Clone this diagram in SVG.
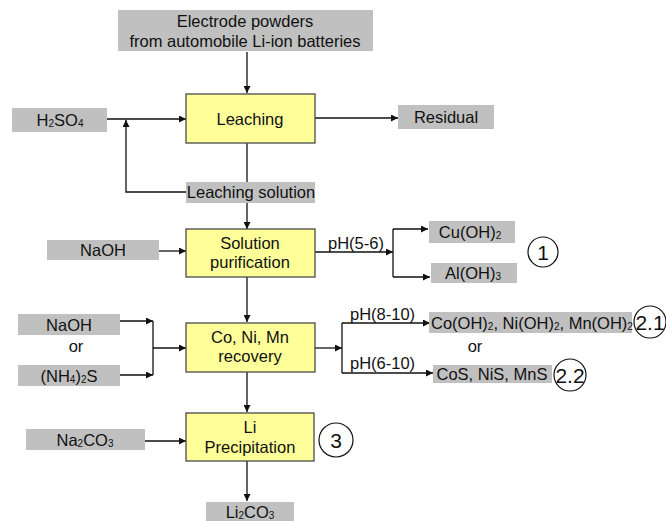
<svg xmlns="http://www.w3.org/2000/svg" width="666" height="521" viewBox="0 0 666 521">
<style>
  text { font-family: "Liberation Sans", Arial, sans-serif; font-size: 16.5px; fill: #111; }
  .c { text-anchor: middle; }
  .g { fill: #c0c0c0; stroke: none; }
  .y { fill: #ffff99; stroke: #4a4a4a; stroke-width: 1.3; }
  .ln { fill: none; stroke: #111; stroke-width: 1.3; }
  .circ { fill: #fff; stroke: #111; stroke-width: 1.2; }
  .sub { font-size: 10px; }
  .num { font-size: 21px; }
</style>
<defs>
  <marker id="ah" viewBox="0 0 10 10" refX="10" refY="5" markerWidth="7" markerHeight="7" markerUnits="userSpaceOnUse" orient="auto">
    <path d="M0,0 L10,5 L0,10 z" fill="#111"/>
  </marker>
</defs>

<g id="connectors">
  <path class="ln" d="M247,52 V93" marker-end="url(#ah)"/>
  <path class="ln" d="M107,119 H186" marker-end="url(#ah)"/>
  <path class="ln" d="M187,192 H126 V120" marker-end="url(#ah)"/>
  <path class="ln" d="M315,118 H398" marker-end="url(#ah)"/>
  <path class="ln" d="M247,143 V182"/>
  <path class="ln" d="M247,203 V229" marker-end="url(#ah)"/>
  <path class="ln" d="M159,251 H186" marker-end="url(#ah)"/>
  <path class="ln" d="M315,252 H393" marker-end="url(#ah)"/>
  <path class="ln" d="M393,229 V277"/>
  <path class="ln" d="M393,229 H428" marker-end="url(#ah)"/>
  <path class="ln" d="M393,277 H430" marker-end="url(#ah)"/>
  <path class="ln" d="M247,277 V322" marker-end="url(#ah)"/>
  <path class="ln" d="M120,321 H153" marker-end="url(#ah)"/>
  <path class="ln" d="M120,375 H153" marker-end="url(#ah)"/>
  <path class="ln" d="M153,321 V375"/>
  <path class="ln" d="M153,348 H186" marker-end="url(#ah)"/>
  <path class="ln" d="M314,348 H342" marker-end="url(#ah)"/>
  <path class="ln" d="M342,323 V373"/>
  <path class="ln" d="M342,323 H430" marker-end="url(#ah)"/>
  <path class="ln" d="M342,373 H433" marker-end="url(#ah)"/>
  <path class="ln" d="M247,372 V412" marker-end="url(#ah)"/>
  <path class="ln" d="M145,441 H186" marker-end="url(#ah)"/>
  <path class="ln" d="M247,461 V501" marker-end="url(#ah)"/>
  <text x="328" y="249">pH(5-6)</text>
  <text x="350" y="320">pH(8-10)</text>
  <text x="350" y="369">pH(6-10)</text>
</g>

<g id="source">
  <rect class="g" x="118" y="10" width="255" height="41"/>
  <text class="c" x="245" y="27">Electrode powders</text>
  <text class="c" x="245" y="47">from automobile Li-ion batteries</text>
</g>

<g id="leaching">
  <rect class="y" x="186" y="94" width="129" height="49"/>
  <text class="c" x="250" y="125">Leaching</text>
</g>

<g id="h2so4">
  <rect class="g" x="12" y="108" width="95" height="24"/>
  <text class="c" x="60" y="126">H<tspan class="sub" dy="1">2</tspan><tspan dy="-1">SO</tspan><tspan class="sub" dy="1">4</tspan></text>
</g>

<g id="residual">
  <rect class="g" x="398" y="105" width="96" height="24"/>
  <text class="c" x="446" y="123">Residual</text>
</g>

<g id="leaching-solution">
  <rect class="g" x="186" y="182" width="129" height="21"/>
  <text class="c" x="251" y="198">Leaching solution</text>
</g>

<g id="solution-purification">
  <rect class="y" x="186" y="229" width="129" height="48"/>
  <text class="c" x="250" y="249">Solution</text>
  <text class="c" x="250" y="268">purification</text>
</g>

<g id="naoh1">
  <rect class="g" x="47" y="240" width="112" height="20"/>
  <text class="c" x="103" y="256">NaOH</text>
</g>

<g id="cuoh2">
  <rect class="g" x="429" y="221" width="86" height="22"/>
  <text class="c" x="470" y="238">Cu(OH)<tspan class="sub" dy="1">2</tspan></text>
</g>

<g id="aloh3">
  <rect class="g" x="431" y="263" width="86" height="20"/>
  <text class="c" x="473" y="279">Al(OH)<tspan class="sub" dy="1">3</tspan></text>
</g>

<g id="label-1">
  <circle class="circ" cx="543" cy="252" r="15"/>
  <text class="c num" x="543" y="259.5">1</text>
</g>

<g id="recovery">
  <rect class="y" x="186" y="323" width="129" height="49"/>
  <text class="c" x="250" y="343">Co, Ni, Mn</text>
  <text class="c" x="250" y="362">recovery</text>
</g>

<g id="naoh2">
  <rect class="g" x="18" y="314" width="102" height="21"/>
  <text class="c" x="69" y="331">NaOH</text>
</g>

<g id="or1">
  <text class="c" x="76" y="352">or</text>
</g>

<g id="nh4s">
  <rect class="g" x="18" y="365" width="102" height="21"/>
  <text class="c" x="69" y="382">(NH<tspan class="sub" dy="1">4</tspan><tspan dy="-1">)</tspan><tspan class="sub" dy="1">2</tspan><tspan dy="-1">S</tspan></text>
</g>

<g id="hydroxides">
  <rect class="g" x="429" y="312" width="203" height="21"/>
  <text x="431" y="329">Co(OH)<tspan class="sub" dy="1">2</tspan><tspan dy="-1">, Ni(OH)</tspan><tspan class="sub" dy="1">2</tspan><tspan dy="-1">, Mn(OH)</tspan><tspan class="sub" dy="1">2</tspan></text>
</g>

<g id="label-2-1">
  <circle class="circ" cx="650" cy="322" r="16"/>
  <text class="c num" x="650" y="329.5">2.1</text>
</g>

<g id="or2">
  <text class="c" x="475" y="352">or</text>
</g>

<g id="sulfides">
  <rect class="g" x="433" y="365" width="119" height="18"/>
  <text class="c" x="492" y="380">CoS, NiS, MnS</text>
</g>

<g id="label-2-2">
  <circle class="circ" cx="570" cy="375" r="16"/>
  <text class="c num" x="570" y="382.5">2.2</text>
</g>

<g id="li-precipitation">
  <rect class="y" x="186" y="413" width="128" height="48"/>
  <text class="c" x="250" y="433">Li</text>
  <text class="c" x="250" y="453">Precipitation</text>
</g>

<g id="na2co3">
  <rect class="g" x="26" y="429" width="119" height="21"/>
  <text class="c" x="85" y="446">Na<tspan class="sub" dy="1">2</tspan><tspan dy="-1">CO</tspan><tspan class="sub" dy="1">3</tspan></text>
</g>

<g id="label-3">
  <circle class="circ" cx="336" cy="440" r="17"/>
  <text class="c num" x="336" y="447.5">3</text>
</g>

<g id="li2co3">
  <rect class="g" x="206" y="502" width="88" height="21"/>
  <text class="c" x="250" y="518">Li<tspan class="sub" dy="1">2</tspan><tspan dy="-1">CO</tspan><tspan class="sub" dy="1">3</tspan></text>
</g>
</svg>
